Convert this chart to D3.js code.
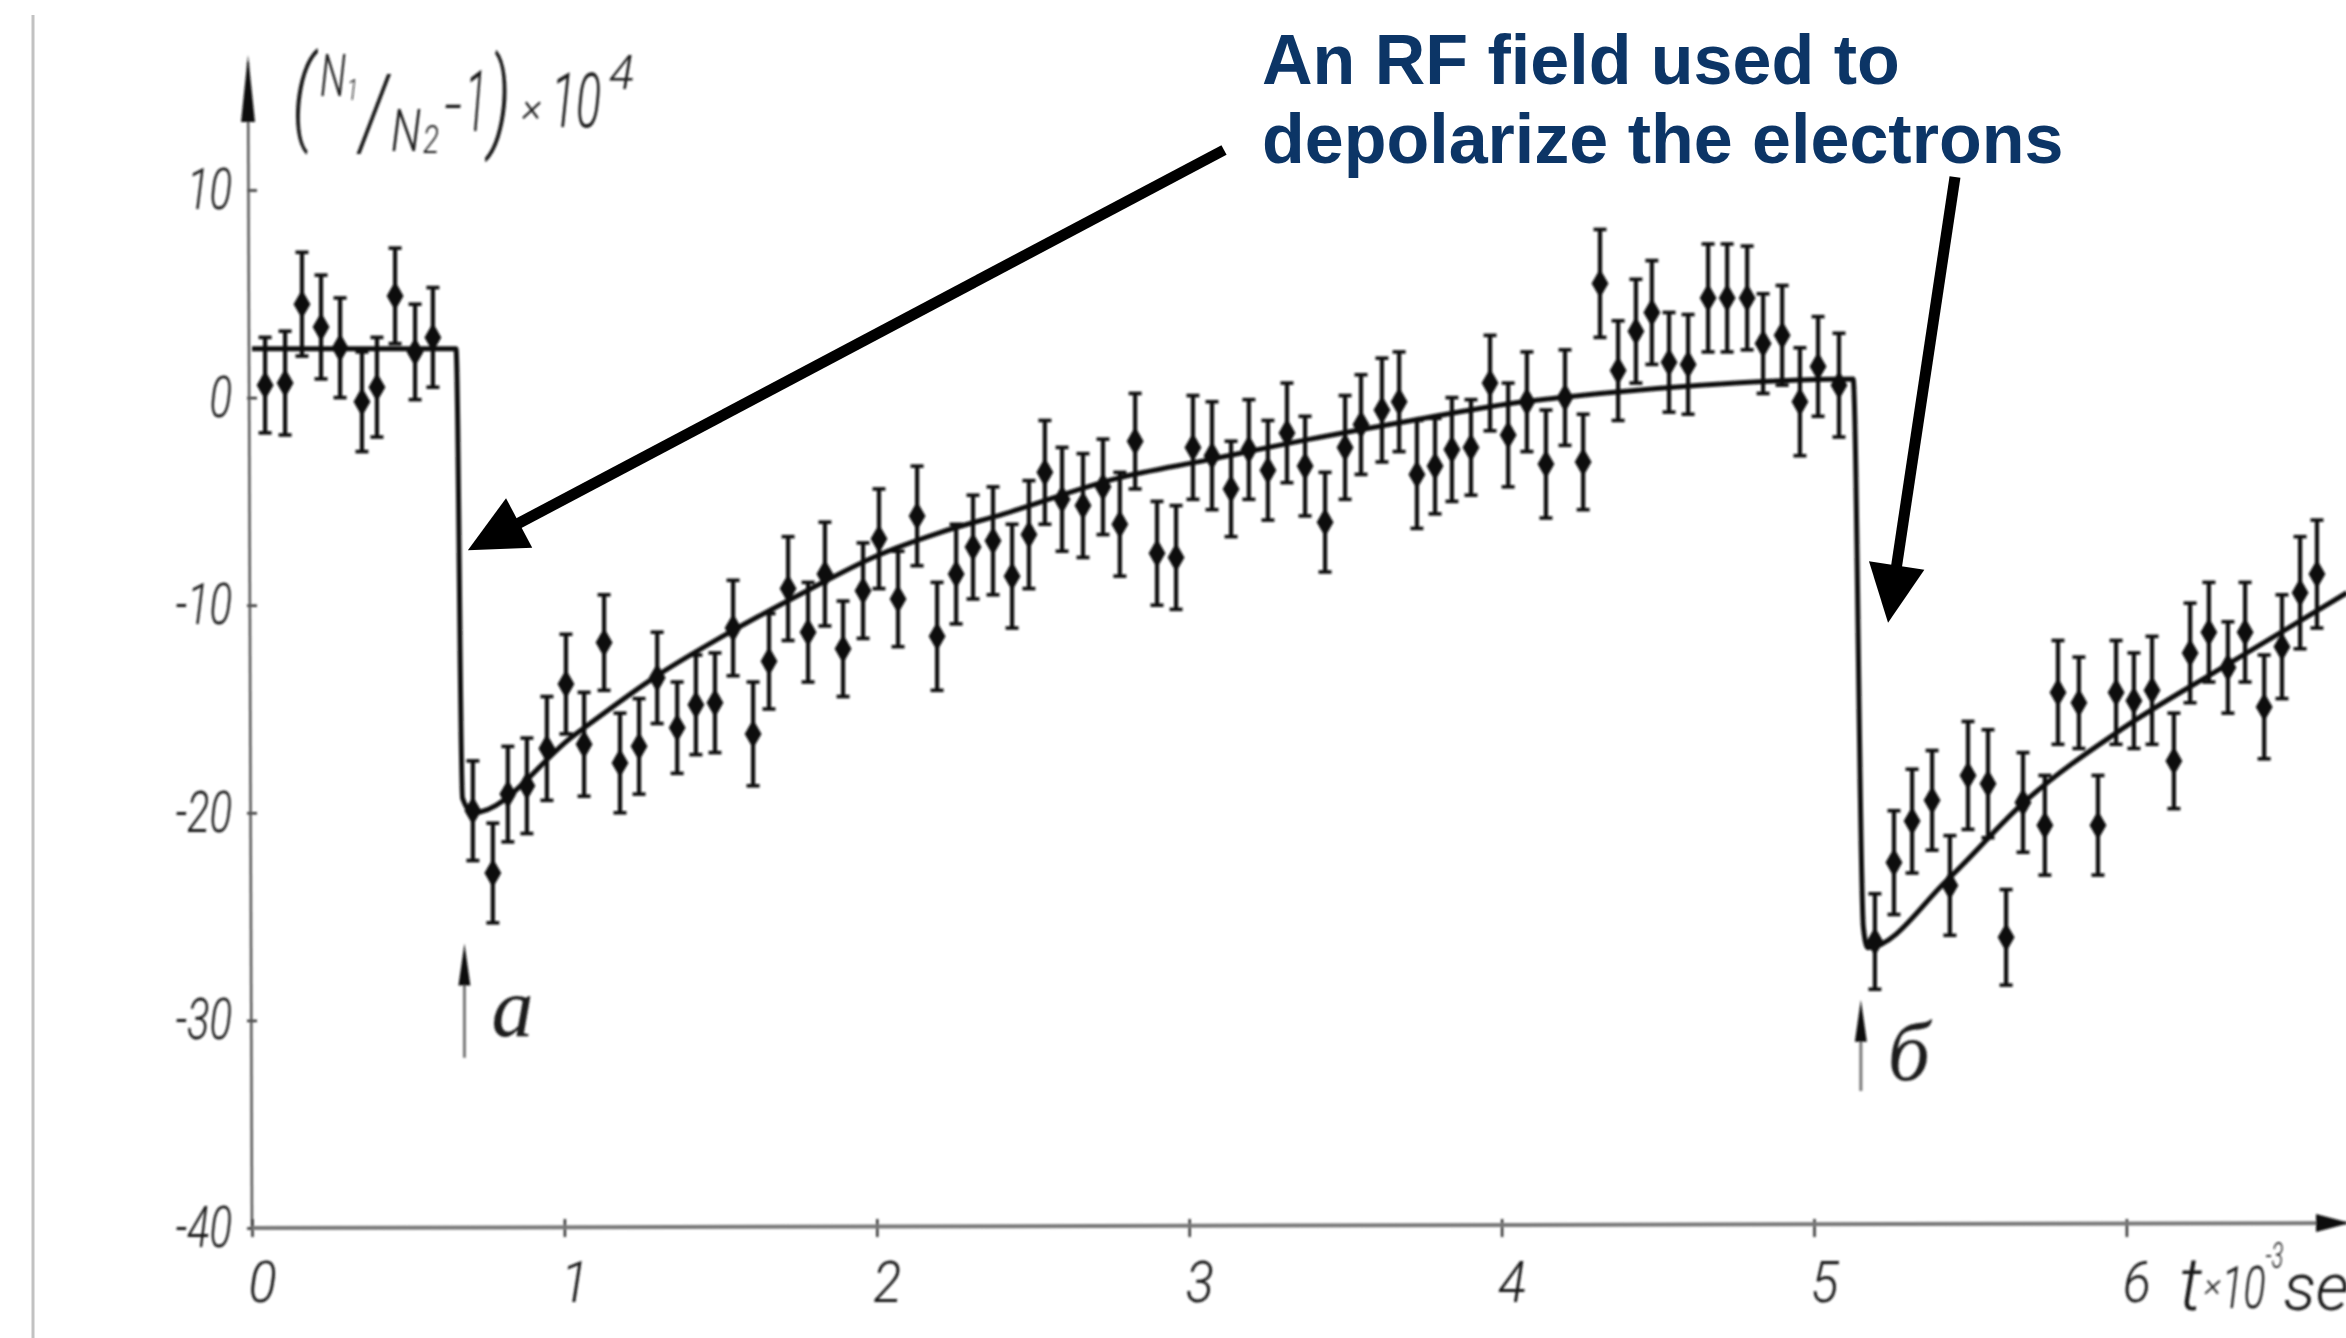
<!DOCTYPE html>
<html>
<head>
<meta charset="utf-8">
<script src="https://cdn.jsdelivr.net/npm/d3@7/dist/d3.min.js"></script>
<style>
  html, body { margin: 0; padding: 0; background: #fff; }
  svg { display: block; }
</style>
</head>
<body>
<svg id="chart" width="2346" height="1338"></svg>
<script>
// ---- measured points: time (10^-3 s), (N1/N2 - 1)x10^4, error half-width ----
const pointT = [
  0.042, 0.106, 0.160, 0.221, 0.282, 0.352, 0.400, 0.458, 0.522, 0.579,
  0.707, 0.771, 0.819, 0.880, 0.944, 1.005, 1.063, 1.127, 1.178, 1.239,
  1.297, 1.361, 1.421, 1.482, 1.540, 1.604, 1.655, 1.716, 1.780, 1.834,
  1.892, 1.956, 2.007, 2.068, 2.129, 2.193,
  2.254, 2.308, 2.372, 2.433, 2.487, 2.538, 2.593, 2.660, 2.724, 2.778,
  2.827, 2.897, 2.958, 3.012, 3.073, 3.134, 3.191, 3.252, 3.313, 3.371,
  3.435, 3.499, 3.550, 3.617, 3.672, 3.729, 3.787, 3.841, 3.902, 3.963,
  4.021, 4.081, 4.142, 4.203, 4.261,
  4.315, 4.373, 4.430, 4.481, 4.536, 4.597, 4.661, 4.722, 4.786, 4.837,
  4.898, 4.955, 5.013, 5.080,
  5.195, 5.256, 5.314, 5.378, 5.435, 5.493, 5.557, 5.615, 5.669, 5.739,
  5.781, 5.848, 5.909, 5.967, 6.024, 6.082, 6.152, 6.204, 6.264, 6.325,
  6.380, 6.441, 6.498, 6.556, 6.610
];
const pointV = [
  0.6, 0.7, 4.5, 3.4, 2.4, -0.2, 0.5, 4.9, 2.2, 2.9,
  -19.9, -22.9, -19.1, -18.7, -16.9, -13.8, -16.7, -11.8, -17.6, -16.8,
  -13.5, -15.9, -14.8, -14.7, -11.1, -16.2, -12.7, -9.2, -11.3, -8.5,
  -12.1, -9.3, -6.8, -9.7, -5.7, -11.5,
  -8.5, -7.2, -6.9, -8.6, -6.6, -3.6, -4.9, -5.2, -4.3, -6.1,
  -2.1, -7.5, -7.7, -2.4, -2.8, -4.4, -2.5, -3.5, -1.7, -3.3,
  -6.0, -2.4, -1.3, -0.6, -0.2, -3.7, -3.3, -2.5, -2.4, 0.7,
  -1.8, -0.2, -3.2, 0.0, -3.1,
  5.5, 1.3, 3.2, 4.1, 1.7, 1.6, 4.8, 4.8, 4.8, 2.6,
  3.0, -0.2, 1.5, 0.6,
  -26.2, -22.4, -20.4, -19.4, -23.5, -18.2, -18.6, -26.0, -19.5, -20.6,
  -14.2, -14.7, -20.6, -14.2, -14.6, -14.1, -17.5, -12.3, -11.3, -13.0,
  -11.3, -14.9, -12.0, -9.4, -8.5
];
const pointErr = [
  2.3, 2.5, 2.5, 2.5, 2.4, 2.4, 2.4, 2.3, 2.3, 2.4,
  2.4, 2.4, 2.3, 2.3, 2.5, 2.4, 2.5, 2.3, 2.4, 2.3,
  2.2, 2.2, 2.4, 2.4, 2.3, 2.5, 2.3, 2.5, 2.4, 2.5,
  2.3, 2.3, 2.4, 2.3, 2.4, 2.6,
  2.4, 2.5, 2.6, 2.5, 2.6, 2.5, 2.5, 2.5, 2.3, 2.5,
  2.3, 2.5, 2.5, 2.5, 2.6, 2.3, 2.4, 2.4, 2.4, 2.4,
  2.4, 2.5, 2.4, 2.5, 2.4, 2.6, 2.3, 2.5, 2.3, 2.3,
  2.5, 2.4, 2.6, 2.3, 2.3,
  2.6, 2.4, 2.5, 2.5, 2.4, 2.4, 2.6, 2.6, 2.5, 2.4,
  2.4, 2.6, 2.4, 2.5,
  2.3, 2.5, 2.5, 2.4, 2.4, 2.6, 2.6, 2.3, 2.4, 2.4,
  2.5, 2.2, 2.4, 2.5, 2.3, 2.6, 2.3, 2.4, 2.4, 2.2,
  2.4, 2.5, 2.5, 2.7, 2.6
];

// ---- fitted curve (plateau, depolarization at "а", recovery, second pulse at "б") ----
const fitT = [0, 0.653, 0.674, 0.707, 1.028, 1.296, 1.530, 1.777, 1.988, 2.202,
              2.407, 2.766, 3.060, 3.387, 3.713, 4.040, 4.315, 4.635, 4.955, 5.125,
              5.158, 5.172, 5.429, 5.672, 5.992, 6.296, 6.706];
const fitV = [2.35, 2.35, -19.3, -20.0, -16.3, -13.4, -11.3, -9.3, -7.7, -6.5,
              -5.6, -3.9, -3.0, -2.0, -1.1, -0.26, 0.2, 0.6, 0.85, 0.9,
              -25.5, -26.5, -23.2, -19.5, -15.9, -13.1, -9.4];

// ---- axes and labels ----
const xTicks = [0, 1, 2, 3, 4, 5, 6];
const yTicks = [10, 0, -10, -20, -30, -40];
const eventT = [0.68, 5.15];
const eventLabels = ["а", "б"];
const noteLines = ["An RF field used to", "depolarize the electrons"];

const W = 2346, H = 1338;
const x = d3.scaleLinear().domain([0, 6]).range([252, 2126.4]);
const y = d3.scaleLinear().domain([-40, 10]).range([1228, 190]);

const svg = d3.select("#chart");
svg.append("rect").attr("width", W).attr("height", H).attr("fill", "#fff");

const defs = svg.append("defs");
defs.append("filter").attr("id", "soft")
  .attr("x", "-5%").attr("y", "-5%").attr("width", "110%").attr("height", "110%")
  .append("feGaussianBlur").attr("stdDeviation", 0.9);

// thin page rule on the left
svg.append("line")
  .attr("x1", 33).attr("x2", 33).attr("y1", 15).attr("y2", H)
  .attr("stroke", "#c2c2c2").attr("stroke-width", 3);

const plot = svg.append("g").attr("filter", "url(#soft)");
const ink = "#111";
const handFont = "Roboto, 'Liberation Sans', sans-serif";

function squeeze(sel, k) {
  sel.each(function () {
    const w = this.getComputedTextLength();
    this.setAttribute("textLength", (w * k).toFixed(1));
    this.setAttribute("lengthAdjust", "spacingAndGlyphs");
  });
}

// ---- y axis ----
const x0 = x(0);
const yAxis = d3.axisLeft(y).tickValues(yTicks).tickFormat(d => String(d))
  .tickSizeInner(6).tickSizeOuter(0).tickPadding(14);
const gy = plot.append("g").attr("transform", `translate(${x0},0)`).call(yAxis);
gy.select(".domain").remove();
gy.selectAll(".tick line").attr("x1", -5).attr("x2", 5)
  .attr("stroke", "#333").attr("stroke-width", 2.5);
gy.selectAll(".tick text")
  .attr("font-family", handFont).attr("font-style", "italic").attr("font-weight", 300)
  .attr("font-size", 58).attr("fill", "#161616");
squeeze(gy.selectAll(".tick text"), 0.72);

plot.append("line")
  .attr("x1", x0).attr("x2", x0 - 4).attr("y1", y(-40)).attr("y2", 62)
  .attr("stroke", "#555").attr("stroke-width", 2.5);
plot.append("path")
  .attr("d", d3.line()([[x0 - 4, 55], [x0 - 11, 122], [x0 + 3, 122]]) + "Z")
  .attr("fill", ink);

// ---- x axis ----
const xAxis = d3.axisBottom(x).tickValues(xTicks).tickFormat(d3.format("d"))
  .tickSizeInner(9).tickSizeOuter(0).tickPadding(24);
const gx = plot.append("g").attr("transform", `translate(0,${y(-40)})`).call(xAxis);
gx.select(".domain").remove();
gx.selectAll(".tick line").attr("y1", -9).attr("y2", 9)
  .attr("stroke", "#333").attr("stroke-width", 2.5);
gx.selectAll(".tick text")
  .attr("dx", 10)
  .attr("font-family", handFont).attr("font-style", "italic").attr("font-weight", 300)
  .attr("font-size", 58).attr("fill", "#161616");
squeeze(gx.selectAll(".tick text"), 0.9);

plot.append("line")
  .attr("x1", x0).attr("x2", W).attr("y1", y(-40)).attr("y2", y(-40) - 5)
  .attr("stroke", "#777").attr("stroke-width", 4);
plot.append("path")
  .attr("d", d3.line()([[W + 4, y(-40) - 5], [W - 30, y(-40) - 14], [W - 30, y(-40) + 4]]) + "Z")
  .attr("fill", ink);

// axis title along t (runs off the right edge of the page)
const tTitle = plot.append("text")
  .attr("x", 2179).attr("y", 1310)
  .attr("font-family", handFont).attr("font-style", "italic").attr("font-weight", 300)
  .attr("fill", "#161616");
tTitle.append("tspan").attr("font-size", 74).text("t");
tTitle.append("tspan").attr("font-size", 34).attr("dx", 2).attr("dy", -14).text("×");
tTitle.append("tspan").attr("font-size", 60).attr("dy", 12).attr("textLength", 44)
  .attr("lengthAdjust", "spacingAndGlyphs").text("10");
tTitle.append("tspan").attr("font-size", 36).attr("dy", -40).attr("textLength", 18)
  .attr("lengthAdjust", "spacingAndGlyphs").text("-3");
tTitle.append("tspan").attr("font-size", 66).attr("dy", 42).text("sec");

// y quantity label: (N1/N2 - 1)x10^4, each piece in its own horizontal slot
const yTitle = plot.append("text")
  .attr("font-family", handFont).attr("font-style", "italic").attr("font-weight", 300)
  .attr("fill", "#161616");
const piece = (txt, px, py, size, len) => {
  yTitle.append("tspan").attr("x", px).attr("y", py).attr("font-size", size)
    .attr("textLength", len).attr("lengthAdjust", "spacingAndGlyphs").text(txt);
};
piece("(", 292, 131, 104, 22);
piece("N", 320, 96, 60, 26);
piece("1", 347, 100, 30, 11);
piece("/", 360, 148, 104, 28);
piece("N", 391, 151, 60, 30);
piece("2", 423, 153, 38, 16);
piece("-", 444, 126, 62, 18);
piece("1", 465, 131, 86, 22);
piece(")", 489, 137, 110, 22);
piece("×", 522, 121, 40, 20);
piece("10", 551, 127, 76, 50);
piece("4", 609, 89, 48, 25);

// ---- fitted curve ----
const fitLine = d3.line()
  .x(i => x(fitT[i]))
  .y(i => y(fitV[i]))
  .curve(d3.curveMonotoneX);
plot.append("path")
  .datum(d3.range(fitT.length))
  .attr("d", fitLine)
  .attr("fill", "none").attr("stroke", ink).attr("stroke-width", 5)
  .attr("stroke-linejoin", "round");

// ---- error bars and points ----
const pts = plot.append("g").attr("stroke", ink).attr("fill", ink);
pointT.forEach((t, i) => {
  const cx = x(t), v = pointV[i], e = pointErr[i];
  const yTop = y(v + e), yBot = y(v - e);
  pts.append("line").attr("x1", cx).attr("x2", cx).attr("y1", yTop).attr("y2", yBot)
    .attr("stroke-width", 4.2);
  pts.append("line").attr("x1", cx - 6.5).attr("x2", cx + 6.5).attr("y1", yTop).attr("y2", yTop)
    .attr("stroke-width", 3.6);
  pts.append("line").attr("x1", cx - 6.5).attr("x2", cx + 6.5).attr("y1", yBot).attr("y2", yBot)
    .attr("stroke-width", 3.6);
  pts.append("path")
    .attr("transform", `translate(${cx},${y(v)})`)
    .attr("d", d3.symbol(d3.symbolDiamond, 190)())
    .attr("stroke-width", 1.8);
});

// ---- event markers а / б below the drops ----
const markerSpan = [[-26.3, -31.8], [-29.0, -33.4]];
const labelOffset = [[27, 92], [27, 80]];
eventT.forEach((t, i) => {
  const mx = x(t);
  const yTip = y(markerSpan[i][0]), yBase = y(markerSpan[i][1]);
  plot.append("line").attr("x1", mx).attr("x2", mx).attr("y1", yBase).attr("y2", yTip + 20)
    .attr("stroke", "#777").attr("stroke-width", 3);
  plot.append("path")
    .attr("d", d3.line()([[mx, yTip], [mx - 6, yTip + 42], [mx + 6, yTip + 42]]) + "Z")
    .attr("fill", ink);
  plot.append("text")
    .attr("x", mx + labelOffset[i][0]).attr("y", yTip + labelOffset[i][1])
    .attr("font-family", "'Liberation Serif', 'DejaVu Serif', serif")
    .attr("font-style", "italic").attr("font-size", 84).attr("fill", "#1a1a1a")
    .text(eventLabels[i]);
});

// ---- annotation ----
const note = svg.append("g")
  .attr("font-family", "'Liberation Sans', Arial, sans-serif")
  .attr("font-weight", "bold").attr("font-size", 70).attr("fill", "#0c3566");
noteLines.forEach((s, i) => {
  note.append("text").attr("x", 1262).attr("y", 84 + i * 79).text(s);
});

function callout(tail, tip) {
  const dx = tip[0] - tail[0], dy = tip[1] - tail[1];
  const len = Math.hypot(dx, dy), ux = dx / len, uy = dy / len;
  const hl = 58, hw = 28;
  const bx = tip[0] - ux * hl, by = tip[1] - uy * hl;
  svg.append("line")
    .attr("x1", tail[0]).attr("y1", tail[1]).attr("x2", bx + ux * 4).attr("y2", by + uy * 4)
    .attr("stroke", "#000").attr("stroke-width", 11);
  svg.append("path")
    .attr("d", d3.line()([tip, [bx - uy * hw, by + ux * hw], [bx + uy * hw, by - ux * hw]]) + "Z")
    .attr("fill", "#000");
}
callout([1224, 150], [x(0.691), y(-7.35)]);
callout([1955, 177], [x(5.237), y(-10.85)]);
</script>
</body>
</html>
